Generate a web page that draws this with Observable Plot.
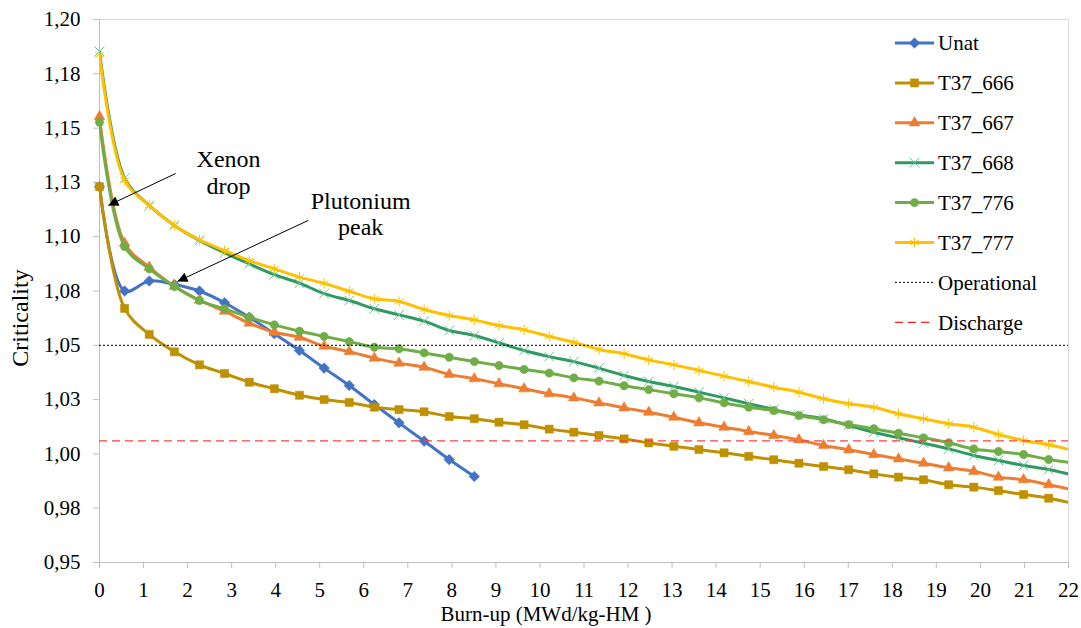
<!DOCTYPE html>
<html><head><meta charset="utf-8">
<script src="https://cdn.jsdelivr.net/npm/d3@7"></script>
<script src="https://cdn.jsdelivr.net/npm/@observablehq/plot@0.6"></script>
<style>
body{margin:0;background:#fff;}
#wrap{position:relative;width:1081px;height:628px;font-family:"Liberation Serif","Times New Roman",serif;}
#wrap svg.legend{position:absolute;left:0;top:0;pointer-events:none;}
</style></head><body><div id="wrap"></div>
<script>
// ---- data ----
const burnup = [0, 0.57, 1.13, 1.70, 2.27, 2.84, 3.40, 3.97, 4.54, 5.10, 5.67, 6.24, 6.80, 7.37, 7.94, 8.51,
  9.07, 9.64, 10.21, 10.77, 11.34, 11.91, 12.47, 13.04, 13.61, 14.18, 14.74, 15.31, 15.88, 16.44, 17.01,
  17.58, 18.14, 18.71, 19.28, 19.85, 20.41, 20.98, 21.55, 22.11];
const unat = [1.123, 1.075, 1.0796, 1.078, 1.075, 1.0696, 1.0629, 1.0553, 1.0476, 1.0395, 1.0315, 1.0227, 1.0143, 1.0059, 0.9974, 0.9896];
const t37_666 = [1.123, 1.067, 1.055, 1.047, 1.041, 1.037, 1.033, 1.030, 1.027, 1.025, 1.0237, 1.0215, 1.0204, 1.0194, 1.0172, 1.0162,
  1.0146, 1.0134, 1.0114, 1.0100, 1.0085, 1.0069, 1.0051, 1.0035, 1.0020, 1.0005, 0.9989, 0.9973, 0.9957, 0.9942, 0.9927,
  0.9908, 0.9893, 0.9881, 0.9858, 0.9847, 0.9831, 0.9813, 0.9796, 0.9772];
const t37_667 = [1.1553, 1.097, 1.086, 1.0772, 1.0708, 1.0657, 1.0602, 1.0560, 1.0537, 1.0496, 1.0471, 1.0441, 1.0418, 1.0399, 1.0366, 1.0346,
  1.0323, 1.0300, 1.0277, 1.0258, 1.0235, 1.0212, 1.0192, 1.0169, 1.0143, 1.0123, 1.0103, 1.0085, 1.0065, 1.0039, 1.0019,
  0.9997, 0.9977, 0.9957, 0.9936, 0.9920, 0.9893, 0.9881, 0.9858, 0.9834];
const t37_668 = [1.1853, 1.127, 1.1144, 1.1052, 1.0983, 1.0926, 1.0875, 1.0825, 1.0786, 1.0738, 1.0706, 1.0668, 1.0640, 1.0611, 1.0568, 1.0545,
  1.0511, 1.0476, 1.0448, 1.0425, 1.0395, 1.0361, 1.0333, 1.0310, 1.0284, 1.0258, 1.0231, 1.0204, 1.0180, 1.0162, 1.0131,
  1.0100, 1.0074, 1.0049, 1.0023, 0.9993, 0.9970, 0.9947, 0.9928, 0.9902];
const t37_776 = [1.1527, 1.0955, 1.0852, 1.0771, 1.0706, 1.0668, 1.0629, 1.0594, 1.0565, 1.0541, 1.0517, 1.0491, 1.0484, 1.0465, 1.0445, 1.0425,
  1.0407, 1.0389, 1.0372, 1.0350, 1.0335, 1.0314, 1.0296, 1.0277, 1.0258, 1.0235, 1.0215, 1.0200, 1.0177, 1.0157, 1.0135,
  1.0116, 1.0095, 1.0074, 1.0051, 1.0023, 1.0011, 0.9997, 0.9974, 0.9958];
const t37_777 = [1.1838, 1.126, 1.1144, 1.1052, 1.0986, 1.0936, 1.0890, 1.0852, 1.0814, 1.0785, 1.0749, 1.0714, 1.0702, 1.0665, 1.0637, 1.0617,
  1.0591, 1.0571, 1.0541, 1.0514, 1.0481, 1.0461, 1.0433, 1.0410, 1.0384, 1.0358, 1.0333, 1.0307, 1.0284, 1.0254, 1.0231,
  1.0215, 1.0185, 1.0162, 1.0139, 1.0123, 1.0089, 1.0062, 1.0042, 1.0015];

const seriesNames = ["Unat", "T37_666", "T37_667", "T37_668", "T37_776", "T37_777"];
const seriesValues = [unat, t37_666, t37_667, t37_668, t37_776, t37_777];
const seriesColors = ["#4472C4", "#BF9000", "#ED7D31", "#2E9A62", "#70AD47", "#FFC000"];
const markerColors = ["#4472C4", "#BF9000", "#ED7D31", "#6CC096", "#70AD47", "#F5C400"];
const seriesSymbols = ["diamond2", "square", "triangle", "times", "circle", "asterisk"];
const markerRadius = [4.8, 4.6, 4.0, 4.5, 4.2, 4.8];
const seriesFilled = [true, true, true, false, true, false];

const operationalLevel = 1.05;
const dischargeLevel = 1.006;
const refNames = ["Operational", "Discharge"];

const xTicks = [0,1,2,3,4,5,6,7,8,9,10,11,12,13,14,15,16,17,18,19,20,21,22];
const yTicks = [0.95, 0.975, 1.0, 1.025, 1.05, 1.075, 1.1, 1.125, 1.15, 1.175, 1.2];
const yTickLabels = ["0,95", "0,98", "1,00", "1,03", "1,05", "1,08", "1,10", "1,13", "1,15", "1,18", "1,20"];

const xTitle = "Burn-up (MWd/kg-HM )";
const yTitle = "Criticality";

const noteLabels = ["Xenon\ndrop", "Plutonium\npeak"];
const noteX = [2.93, 5.93];
const noteY = [1.1297, 1.1107];
const arrowFromX = [1.73, 4.74], arrowFromY = [1.1291, 1.1075];
const arrowToX = [0.20, 1.77], arrowToY = [1.1144, 1.0794];

// ---- build table ----
const rows = [];
seriesNames.forEach((s, k) => seriesValues[k].forEach((v, i) => rows.push({series: s, k, x: burnup[i], y: v})));
const notes = noteLabels.map((t, i) => ({t, x: noteX[i], y: noteY[i]}));
const arrows = arrowFromX.map((_, i) => ({x1: arrowFromX[i], y1: arrowFromY[i], x2: arrowToX[i], y2: arrowToY[i]}));

const FONT = "Liberation Serif, Times New Roman, serif";
const marks = [
  Plot.frame({stroke: "#d9d9d9"}),
  Plot.ruleX([0], {stroke: "#bfbfbf"}),
  Plot.ruleY([0.95], {stroke: "#bfbfbf"}),
  Plot.axisX({ticks: xTicks, tickSize: 6, tickPadding: 14, stroke: "#bfbfbf", fill: "#000", fontSize: 21, tickFormat: d => String(d), label: null}),
  Plot.axisY({ticks: yTicks, tickSize: 6, tickPadding: 13, stroke: "#bfbfbf", fill: "#000", fontSize: 21,
    tickFormat: d => yTickLabels[yTicks.findIndex(t => Math.abs(t - d) < 1e-9)], label: null})
];
seriesNames.forEach((s, k) => {
  const d = rows.filter(r => r.k === k);
  marks.push(Plot.line(d, {x: "x", y: "y", stroke: seriesColors[k], strokeWidth: 3, curve: "catmull-rom", clip: true}));
  const dd = d.filter(r => r.x <= 22);
  marks.push(Plot.dot(dd, {x: "x", y: "y", symbol: () => seriesSymbols[k], r: markerRadius[k],
    fill: seriesFilled[k] ? markerColors[k] : "none",
    stroke: markerColors[k], strokeWidth: seriesFilled[k] ? 0.5 : 1}));
});
marks.push(
  Plot.ruleY([operationalLevel], {stroke: "#000", strokeWidth: 1, strokeDasharray: "2,2"}),
  Plot.ruleY([dischargeLevel], {stroke: "#ff4040", strokeWidth: 1.3, strokeDasharray: "8,5"}),
  Plot.link(arrows, {x1: "x1", y1: "y1", x2: "x2", y2: "y2", stroke: "#000", strokeWidth: 1}),
  Plot.text(notes, {x: "x", y: "y", text: "t", fontSize: 24, lineHeight: 1.1, fill: "#000"}),
  Plot.text([yTitle], {text: d => d, frameAnchor: "left", textAnchor: "middle", dx: -79, dy: 27, rotate: -90, fontSize: 24, fill: "#000"}),
  Plot.text([xTitle], {text: d => d, frameAnchor: "bottom", dy: 58, dx: -38, fontSize: 21, fill: "#000"})
);

const chart = Plot.plot({
  width: 1081, height: 628,
  marginLeft: 99, marginRight: 13, marginTop: 19, marginBottom: 66,
  x: {domain: [0, 22]},
  y: {domain: [0.95, 1.2]},
  style: {fontFamily: FONT, fontSize: "21px", color: "#000", background: "#fff", overflow: "visible"},
  marks
});

// filled arrowheads for annotation links
const svgSel = d3.select(chart);
svgSel.append("defs").append("marker")
  .attr("id", "ahead").attr("viewBox", "0 0 10 10").attr("refX", 10).attr("refY", 5)
  .attr("markerUnits", "userSpaceOnUse").attr("markerWidth", 13).attr("markerHeight", 10).attr("orient", "auto")
  .append("path").attr("d", "M0,0L10,5L0,10z").attr("fill", "#000");
svgSel.selectAll('g[aria-label="link"] path').attr("marker-end", "url(#ahead)");

const wrap = document.getElementById("wrap");
wrap.appendChild(chart);

// legend (overlay, inside plot area on the right)
const leg = d3.create("svg").attr("class", "legend").attr("width", 1081).attr("height", 628);
const rowY0 = 43, rowStep = 39.9, lx0 = 895, lx1 = 934, tx = 938;
const symbolMap = {diamond2: d3.symbolDiamond2, square: d3.symbolSquare, triangle: d3.symbolTriangle,
  times: d3.symbolTimes, circle: d3.symbolCircle, asterisk: d3.symbolAsterisk};
const legendNames = seriesNames.concat(refNames);
legendNames.forEach((name, i) => {
  const y = rowY0 + i * rowStep;
  const g = leg.append("g");
  if (i < seriesNames.length) {
    g.append("line").attr("x1", lx0).attr("x2", lx1).attr("y1", y).attr("y2", y)
      .attr("stroke", seriesColors[i]).attr("stroke-width", 3);
    const filled = seriesFilled[i];
    const r = markerRadius[i];
    g.append("path").attr("transform", `translate(${(lx0 + lx1) / 2},${y})`)
      .attr("d", d3.symbol().type(symbolMap[seriesSymbols[i]]).size(Math.PI * r * r)())
      .attr("fill", filled ? markerColors[i] : "none").attr("stroke", markerColors[i])
      .attr("stroke-width", filled ? 0.5 : 1);
  } else if (name === "Operational") {
    g.append("line").attr("x1", lx0).attr("x2", lx1).attr("y1", y).attr("y2", y)
      .attr("stroke", "#000").attr("stroke-width", 1).attr("stroke-dasharray", "2,2");
  } else {
    g.append("line").attr("x1", lx0).attr("x2", lx1 - 4).attr("y1", y).attr("y2", y)
      .attr("stroke", "#ff2020").attr("stroke-width", 1.3).attr("stroke-dasharray", "8,5");
  }
  g.append("text").attr("x", tx).attr("y", y).attr("dy", "0.35em")
    .attr("font-family", FONT).attr("font-size", 21).attr("fill", "#000").text(name);
});
wrap.appendChild(leg.node());
</script></body></html>
